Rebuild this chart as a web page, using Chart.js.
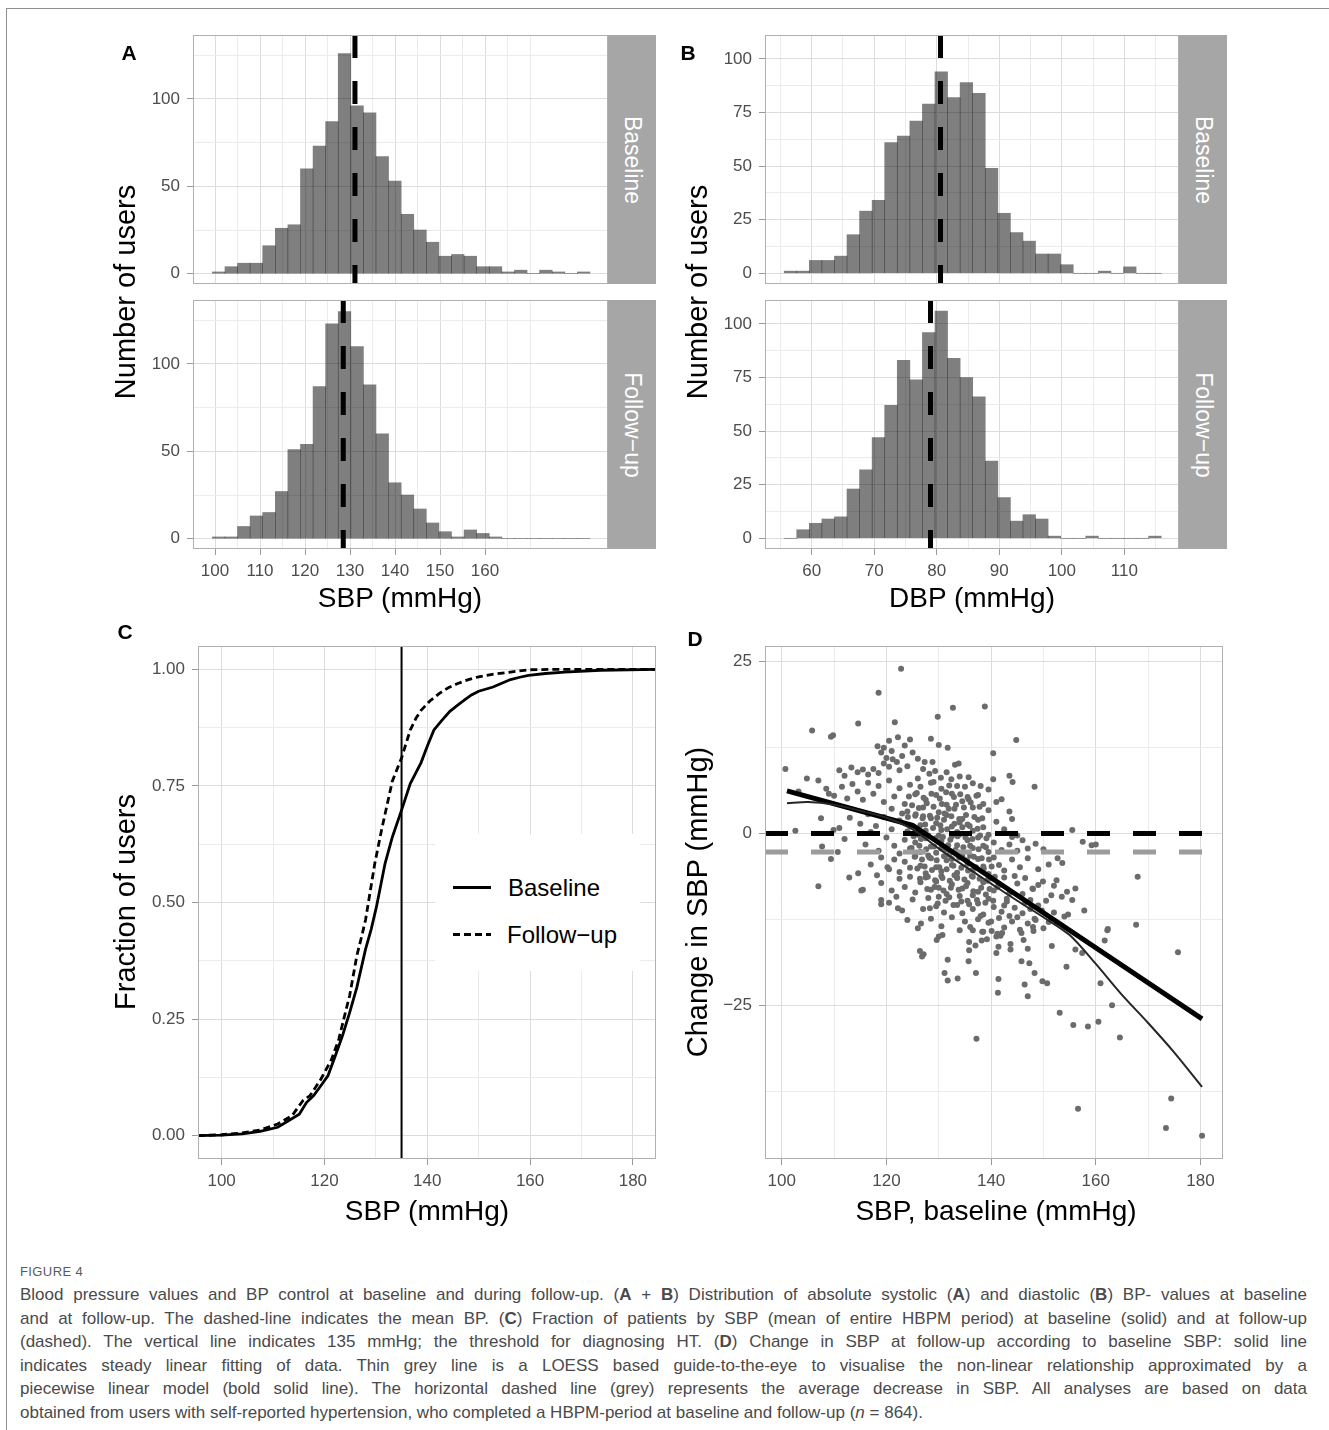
<!DOCTYPE html>
<html>
<head>
<meta charset="utf-8">
<script src="https://cdn.jsdelivr.net/npm/chart.js@4.4.1/dist/chart.umd.min.js"></script>
<style>
  body { margin: 0; background: #fff; width: 1329px; height: 1430px; position: relative; overflow: hidden;
         font-family: "Liberation Sans", Arial, sans-serif; }
  canvas { position: absolute; }
  .abs { position: absolute; }
  .txt { position: absolute; white-space: nowrap; line-height: 1; }
  .strip { position: absolute; background: #a6a6a6; }
  .cap-line { position: absolute; left: 20px; display: inline-block; white-space: nowrap; transform-origin: 0 0;
              font-size: 17px; color: #4a4a4a; }
</style>
</head>
<body>
<div class="abs" style="left:6px;top:8px;width:1323px;border-top:1px solid #8f8f8f"></div>
<div class="abs" style="left:6px;top:8px;height:1422px;border-left:1px solid #8f8f8f"></div>

<script>
// ---- data ----
// A: SBP histogram, 30 bins (centres), counts per facet
const sbpBins = [100.81,103.61,106.40,109.20,112.00,114.80,117.59,120.39,123.19,125.98,128.78,131.58,134.37,137.17,139.97,
                 142.77,145.56,148.36,151.16,153.95,156.75,159.55,162.34,165.14,167.94,170.74,173.53,176.33,179.13,181.92];
const sbpBaseline = [1,4,6,6,16,26,28,60,73,87,126,96,92,67,53,34,25,18,10,11,10,4,4,1,2,0,2,1,0,1];
const sbpFollowup = [1,1,7,13,15,27,51,54,87,123,130,110,88,60,32,25,17,9,4,1,5,3,1,0,0,0,0,0,0,0];
const sbpMeans = [131.1, 128.5];

// B: DBP histogram
const dbpBins = [56.60,58.61,60.62,62.63,64.64,66.65,68.66,70.67,72.68,74.69,76.70,78.71,80.72,82.73,84.74,
                 86.75,88.76,90.77,92.78,94.79,96.80,98.81,100.82,102.83,104.84,106.85,108.86,110.87,112.88,114.89];
const dbpBaseline = [1,1,6,6,8,18,29,34,61,64,71,79,94,82,89,84,49,28,19,15,9,9,4,0,0,1,0,3,0,0];
const dbpFollowup = [0,4,7,9,10,23,32,47,62,83,74,96,106,84,75,66,36,19,8,11,9,1,0,0,1,0,0,0,0,1];
const dbpMeans = [80.6, 79.0];

// C: cumulative fraction of users by SBP
const ecdfBaseline = [[95.4,0],[100,0.001],[104,0.004],[107.5,0.009],[110.9,0.018],[113,0.032],[115.1,0.046],[116.5,0.071],
  [117.9,0.086],[119.3,0.107],[120.7,0.129],[122.1,0.171],[123.5,0.214],[124.9,0.264],[126.3,0.318],[128,0.40],[129.1,0.443],
  [130.1,0.49],[131.8,0.584],[133.2,0.64],[135,0.698],[136.7,0.755],[138.8,0.80],[140,0.835],[141.3,0.87],[142.8,0.89],
  [144.4,0.91],[145.8,0.922],[147.2,0.934],[148.6,0.945],[150,0.953],[152.8,0.962],[154.5,0.97],[156.2,0.978],[158,0.983],
  [159.7,0.987],[163,0.991],[166.7,0.994],[173.7,0.998],[184.5,1.0]];
const ecdfFollowup = [[95.4,0],[100,0.002],[104,0.006],[107.5,0.012],[110.9,0.025],[113.7,0.043],[115.8,0.075],[117.2,0.086],
  [119.3,0.121],[121.4,0.164],[122.8,0.207],[124.2,0.27],[124.9,0.30],[126.3,0.386],[127.3,0.43],[128,0.463],[129.8,0.584],
  [131.1,0.655],[133.2,0.76],[135,0.81],[136.7,0.87],[137.8,0.895],[138.8,0.912],[140.5,0.932],[142.3,0.948],[144,0.96],
  [145.8,0.969],[148,0.978],[150,0.984],[153,0.99],[156.2,0.994],[159.7,0.999],[165,1.0],[184.5,1.0]];
const threshold = 135;

// D: change in SBP vs baseline SBP
const changePoints = [
  [100.7,9.4],[105.8,15.0],[104.8,8.0],[107.0,7.7],[109.8,14.3],[109.4,14.1],[114.6,16.0],[118.5,20.5],[122.8,24.0],[121.6,16.2],
  [129.8,17.0],[132.7,18.3],[138.8,18.5],[144.8,13.6],[140.4,11.7],[148.3,6.8],[128.5,13.8],[130.0,12.9],[131.7,12.5],[124.5,13.7],
  [122.2,14.0],[120.5,13.5],[118.3,12.7],[119.5,12.5],[127.3,10.4],[128.8,10.4],[133.1,10.0],[133.8,10.2],[135.7,8.2],[143.5,8.4],
  [144.1,7.5],[140.4,7.9],[102.6,0.4],[103.2,6.1],[107.5,2.2],[109.0,5.8],[107.0,-7.7],[107.7,-1.9],[109.4,-3.7],[110.7,-2.7],
  [109.9,0.5],[112.9,-6.4],[114.6,-5.8],[115.5,-8.2],[115.2,-8.3],[118.2,-6.1],[119.0,-9.7],[119.0,-10.3],[120.2,-4.9],[155.5,0.5],
  [157.5,-1.2],[159.2,-1.7],[160.0,-1.6],[152.7,-3.6],[153.6,-4.3],[168.0,-6.3],[156.1,-8.0],[155.5,-9.7],[157.8,-11.2],[151.5,-9.0],
  [149.9,-7.0],[147.9,-8.0],[149.7,-11.2],[148.3,-12.4],[167.7,-13.3],[162.2,-14.1],[154.0,-12.1],[154.7,-11.8],[126.6,-13.1],
  [128.3,-10.9],[122.2,-10.9],[121.9,-9.2],[130.0,-15.0],[130.7,-14.8],[129.6,-15.5],[126.4,-17.1],[127.1,-17.6],[126.8,-17.9],
  [131.7,-18.4],[131.1,-20.3],[131.7,-21.4],[133.6,-21.1],[137.1,-20.3],[135.7,-18.6],[135.8,-17.0],[135.8,-15.8],[137.0,-16.3],
  [138.2,-15.6],[139.2,-15.4],[136.5,-14.1],[138.3,-14.3],[140.1,-14.2],[141.0,-15.0],[141.8,-14.9],[141.2,-14.6],[142.1,-14.5],
  [141.4,-16.5],[141.0,-17.4],[143.7,-16.1],[143.7,-16.9],[141.4,-21.2],[141.3,-23.2],[137.2,-29.9],[145.8,-14.5],[146.2,-15.5],
  [147.0,-16.8],[145.8,-18.6],[147.3,-18.9],[148.3,-20.3],[149.8,-21.5],[150.7,-21.8],[146.4,-22.0],[147.0,-23.7],[148.1,-14.2],
  [151.6,-16.4],[154.4,-19.4],[153.1,-26.1],[155.7,-27.9],[158.5,-28.1],[160.5,-27.4],[164.6,-29.7],[163.1,-25.0],[160.9,-21.8],
  [161.7,-15.6],[162.3,-13.9],[156.1,-16.9],[157.4,-17.4],[175.7,-17.3],[156.6,-40.1],[174.4,-38.6],[173.4,-42.9],[180.3,-44.0],
  // upper band
  [111,9.2],[112,8.4],[113.3,9.6],[114.5,8.9],[115.5,9.3],[116.5,8.6],[117.5,9.4],[118.5,8.8],[119.5,10.2],[120.5,9.7],[121.2,10.8],
  [122,10.4],[123,11.3],[124,9.8],[125,11.8],[126,10.9],[127,9.4],[128.2,8.7],[129.3,9.1],[130.4,8.1],[131.5,8.9],[132.4,7.9],
  [134,8.3],[136.5,7.3],[138,6.9],[139.5,6.4],[142,5.0],[143.5,3.2],[144,2.1],[119,11.8],[121,12.0],[123.5,12.8],[120,11],[122.5,9.2],
  // middle band
  [108.5,6.5],[110,5.5],[111.5,6.8],[112.5,5.1],[113.5,7.2],[114.5,6.1],[115.5,4.9],[116.5,7.4],[117.5,5.8],[118.5,6.9],[119.5,4.6],
  [120.5,7.7],[121.5,5.4],[122.5,6.6],[123.5,4.3],[124.5,7.1],[125.5,5.7],[126.5,6.8],[127.5,4.9],[128.5,7.4],[129.5,5.6],[130.5,6.5],
  [131.5,4.2],[132.5,5.8],[133.5,6.9],[134.5,4.7],[135.5,5.3],[136.5,3.8],[137.5,5.6],[138.5,4.3],[139.5,3.4],[141,4.6],[121,3.6],
  [124,3.2],[127,3.8],[130,3.1],[133,3.6],[126,8],[129,7.5],[132,7],[135,6.8],
  [113,2.3],[115,1.4],[116.5,2.8],[118,1.1],[119.5,2.4],[121,0.6],[122.5,1.9],[124,0.3],[125.5,2.6],[126.5,1.2],[127.5,0.4],[128.5,2.2],
  [129.5,1.5],[130.5,0.5],[131.5,2.7],[132.5,1.0],[133.5,0.2],[134.5,2.1],[135.5,1.3],[136.5,0.4],[137.5,2.0],[138.5,0.9],[139.5,-0.2],
  [141,1.7],[142.5,0.6],[145,-0.3],[146,-1.0],[117,0.2],[111,0.8],[123,2.9],[127,2.5],[131,2.0],[134,1.6],
  [112,-0.8],[116,-1.6],[118.5,-2.5],[120,-0.6],[121.5,-1.8],[122.5,-2.9],[123.5,-0.9],[124.5,-2.2],[125.5,-1.3],[126.5,-2.7],
  [127.5,-0.7],[128.5,-1.9],[129.5,-2.8],[130.5,-1.1],[131.5,-2.3],[132.5,-0.4],[133.5,-1.7],[134.5,-2.9],[135.5,-1.0],[136.5,-2.1],
  [137.5,-0.6],[138.5,-1.8],[139.5,-2.7],[140.5,-1.3],[142,-2.4],[143.5,-1.6],[145,-2.5],[147,-2.2],[148.5,-1.5],[150,-2.3],[144,-0.5],
  [126,-0.2],[130,-0.3],[134,-0.1],
  [117,-4.5],[119,-3.5],[120.5,-5.2],[121.5,-3.8],[122.5,-5.6],[123.5,-4.1],[124.5,-5.0],[125.5,-3.3],[126.5,-4.7],[127.5,-5.8],
  [128.5,-3.6],[129.5,-4.9],[130.5,-5.5],[131.5,-3.9],[132.5,-4.6],[133.5,-5.7],[134.5,-3.4],[135.5,-4.4],[136.5,-5.3],[137.5,-3.7],
  [138.5,-4.8],[139.5,-5.9],[140.5,-3.5],[141.5,-4.6],[142.5,-5.4],[144,-3.8],[145.5,-4.9],[147,-3.6],[149,-5.2],[151,-4.5],
  [128,-3.2],[132,-3.1],[136,-3.2],
  [119,-7.2],[121,-8.3],[122.5,-6.6],[123.5,-7.8],[124.5,-6.3],[125.5,-8.6],[126.5,-7.1],[127.5,-6.4],[128.5,-8.2],[129.5,-7.0],
  [130.5,-6.2],[131.5,-8.8],[132.5,-7.4],[133.5,-6.5],[134.5,-8.0],[135.5,-7.2],[136.5,-6.3],[137.5,-8.5],[138.5,-7.1],[139.5,-6.6],
  [140.5,-8.3],[141.5,-7.5],[142.5,-6.4],[143.5,-8.7],[145,-7.3],[146.5,-6.5],[148,-8.1],[152,-7.6],[133,-6.1],[130,-7.9],
  [120.5,-10.1],[123,-11.2],[125,-9.6],[127,-11.0],[128,-9.4],[129.5,-10.6],[131,-11.5],[132,-9.3],[133.5,-10.4],[134.5,-11.6],
  [135.5,-9.8],[136.5,-11.0],[137.5,-10.2],[138.5,-11.8],[139.5,-9.5],[140.5,-10.7],[142,-11.4],[143,-9.9],[144.5,-10.8],[146,-11.6],
  [147.5,-9.7],[149,-10.5],[134,-9.1],[130,-9.2],
  [124,-12.6],[126,-13.8],[128.5,-12.4],[130.5,-13.5],[132.5,-12.2],[134,-14.1],[135,-12.8],[136,-13.6],[137.5,-12.5],[138.5,-14.3],
  [139.5,-13.0],[141.5,-12.3],[142.5,-13.7],[144,-12.8],[145.5,-14.0],[147,-13.1],[148.5,-12.6],[150,-13.8],[152.5,-13.0],
  [143,-9.5],[144.5,-6.2],[146,-8.8],[147.5,-11],[149,-7.5],[150.5,-9.8],[152,-11.5],[153.5,-9.2],[145,-12.2],[148,-13.6],
  [151,-12.9],[143.5,-12],[146.5,-10.1],[152.5,-6.8],[154.5,-8.5],[142.5,-10.5],[140,-12.8],[138,-12],[136.5,-9],[139,-8.9],
  // dense core
  [124.3,5.4],[125.8,5.9],[127.1,5.2],[128.6,5.8],[130.2,5.1],[131.4,6.0],[132.9,5.3],[134.1,5.7],[135.7,5.0],[137.2,5.5],
  [124.9,4.1],[126.2,3.7],[127.7,4.4],[129.0,3.9],[130.6,4.3],[131.9,3.6],[133.3,4.2],[134.8,3.8],[136.1,4.5],[137.8,3.9],
  [124.1,2.4],[125.6,2.8],[126.9,2.2],[128.3,2.6],[129.7,2.3],[131.1,2.9],[132.4,2.5],[133.9,2.1],[135.2,2.7],[136.8,2.4],[138.3,2.2],
  [124.6,1.1],[126.0,0.7],[127.4,1.3],[128.9,0.8],[130.3,1.2],[131.6,0.6],[133.0,1.4],[134.5,0.9],[135.9,1.1],[137.4,0.7],
  [125.2,-0.4],[126.6,-0.8],[128.0,-0.3],[129.4,-0.7],[130.8,-0.5],[132.2,-0.9],[133.6,-0.4],[135.1,-0.6],[136.4,-0.8],[137.9,-0.3],[139.1,-0.7],
  [124.8,-2.1],[126.3,-1.8],[127.6,-2.3],[129.1,-1.9],[130.5,-2.2],[131.8,-1.7],[133.2,-2.4],[134.7,-2.0],[136.0,-1.8],[137.6,-2.3],[139.0,-2.0],
  [125.4,-3.4],[126.8,-3.8],[128.2,-3.5],[129.6,-3.9],[131.0,-3.3],[132.5,-3.7],[133.9,-3.5],[135.4,-3.9],[136.7,-3.4],[138.2,-3.6],[139.6,-3.8],
  [125.9,-5.1],[127.3,-4.8],[128.7,-5.3],[130.1,-4.9],[131.5,-5.2],[132.8,-4.7],[134.3,-5.0],[135.6,-5.4],[137.1,-4.9],[138.6,-5.1],[140.1,-4.8],
  [126.4,-6.6],[127.9,-6.3],[129.3,-6.8],[130.7,-6.5],[132.1,-6.9],[133.5,-6.4],[134.9,-6.7],[136.3,-6.2],[137.8,-6.6],[139.3,-6.9],[140.7,-6.3],
  [127.8,-8.1],[129.2,-7.8],[130.9,-8.3],[132.3,-7.9],[133.8,-8.2],[135.2,-7.7],[136.6,-8.4],[138.1,-7.9],[139.7,-8.1],[141.2,-7.8],
  [129.8,-10.2],[131.3,-9.8],[132.8,-10.4],[134.3,-9.9],[135.8,-10.3],[137.3,-9.7],[138.9,-10.1],[140.4,-9.8]
];
const piecewiseFit = [[101,6.2],[125,1.2],[180.3,-27.0]];
const loessFit = [[101,4.4],[105,4.6],[110,4.2],[115,3.3],[120,2.3],[125,0.6],[130,-2.2],[135,-4.8],[140,-7.3],[145,-9.8],
                  [150,-12.2],[155,-14.8],[160,-19.0],[165,-23.5],[170,-27.6],[175,-31.9],[180.3,-36.9]];
const meanChange = -2.7;

// tick labels
const sbpHistTicks = [100,110,120,130,140,150,160];
const dbpHistTicks = [60,70,80,90,100,110];
const countTicksA = [0,50,100];
const countTicksB = [0,25,50,75,100];
const sbpTicks = [100,120,140,160,180];
const fractionTicks = [0,0.25,0.5,0.75,1];
const changeTicks = [-25,0,25];

// ---- helpers ----
const FONT = '"Liberation Sans", Arial, sans-serif';
const YW = 70, PADT = 20, XH = 50;

function steps(from, to, step) {
  const v = [];
  for (let x = from; x <= to + 1e-9; x += step) v.push(+x.toFixed(4));
  return v;
}

const panelBox = {
  id: 'panelBox',
  afterDraw(chart) {
    const a = chart.chartArea, ctx = chart.ctx;
    ctx.save();
    ctx.strokeStyle = '#b0b0b0';
    ctx.lineWidth = 1;
    ctx.strokeRect(a.left + 0.5, a.top + 0.5, a.right - a.left - 1, a.bottom - a.top - 1);
    ctx.restore();
  }
};

function axis(min, max, grid, labels, fmt, showLabels, isX) {
  return {
    type: 'linear', min: min, max: max, offset: false,
    afterBuildTicks: s => { s.ticks = grid.map(v => ({ value: v, major: labels.includes(v) })); },
    afterFit: s => { if (isX) s.height = showLabels ? XH : 0; else s.width = YW; },
    ticks: {
      display: showLabels, autoSkip: false, maxRotation: 0, minRotation: 0,
      color: '#4d4d4d', font: { family: FONT, size: 17 }, padding: isX ? 6 : 7,
      callback: (v, i, t) => (t[i] && t[i].major) ? fmt(v) : ''
    },
    grid: {
      offset: false, lineWidth: 1,
      color: c => (c.tick && c.tick.major) ? '#dcdcdc' : '#ebebeb',
      drawTicks: showLabels, tickLength: 6, tickWidth: 1,
      tickColor: c => (c.tick && c.tick.major) ? '#9a9a9a' : 'rgba(0,0,0,0)'
    },
    border: { display: false }
  };
}

function makeCanvas(box, bottomAxis) {
  const c = document.createElement('canvas');
  const w = box.R - box.L + YW, h = box.B - box.T + PADT + (bottomAxis ? XH : PADT);
  c.width = w; c.height = h;
  c.style.left = (box.L - YW) + 'px'; c.style.top = (box.T - PADT) + 'px';
  c.style.width = w + 'px'; c.style.height = h + 'px';
  document.body.appendChild(c);
  return c;
}

function baseOptions(bottomAxis, scales) {
  return {
    responsive: false, animation: false, devicePixelRatio: 1, events: [],
    layout: { padding: { top: PADT, bottom: bottomAxis ? 0 : PADT, left: 0, right: 0 } },
    plugins: { legend: { display: false }, tooltip: { enabled: false } },
    scales: scales
  };
}

function histogram(box, bins, counts, mean, xr, xGrid, xLabels, yr, yGrid, yLabels, bottomAxis) {
  new Chart(makeCanvas(box, bottomAxis), {
    type: 'bar',
    data: {
      datasets: [
        { type: 'line', data: [{ x: mean, y: yr[1] }, { x: mean, y: yr[0] }], borderColor: '#000', borderWidth: 5,
          borderDash: [23, 23], pointRadius: 0, clip: 0, order: 0 },
        { type: 'bar', data: bins.map((b, i) => ({ x: b, y: counts[i] })), backgroundColor: 'rgba(0,0,0,0.5)',
          borderWidth: 0, barPercentage: 1, categoryPercentage: 1, grouped: false, order: 1 }
      ]
    },
    options: baseOptions(bottomAxis, {
      x: axis(xr[0], xr[1], xGrid, xLabels, v => String(v), bottomAxis, true),
      y: axis(yr[0], yr[1], yGrid, yLabels, v => String(v), true, false)
    }),
    plugins: [panelBox]
  });
}

function pts(a) { return a.map(p => ({ x: p[0], y: p[1] })); }

function text(str, cx, cy, size, extra) {
  const d = document.createElement('div');
  d.className = 'txt';
  d.innerHTML = str;
  d.style.left = cx + 'px'; d.style.top = cy + 'px'; d.style.fontSize = size + 'px';
  d.style.transform = 'translate(-50%,-50%)' + (extra && extra.rot ? ' rotate(' + extra.rot + 'deg)' : '');
  if (extra && extra.bold) d.style.fontWeight = 'bold';
  d.style.color = (extra && extra.color) || '#000';
  document.body.appendChild(d);
}

function strip(box, label) {
  const s = document.createElement('div');
  s.className = 'strip';
  s.style.left = box.L + 'px'; s.style.top = box.T + 'px';
  s.style.width = (box.R - box.L) + 'px'; s.style.height = (box.B - box.T) + 'px';
  document.body.appendChild(s);
  text(label, (box.L + box.R) / 2, (box.T + box.B) / 2, 23, { rot: 90, color: '#fff' });
}

// ---- panel A ----
const aX = [95.11, 187.33], aY = [-5.9, 136.6];
histogram({ L: 193, R: 608, T: 35, B: 284 }, sbpBins, sbpBaseline, sbpMeans[0], aX, steps(100, 170, 5), sbpHistTicks,
          aY, steps(0, 125, 25), countTicksA, false);
histogram({ L: 193, R: 608, T: 300, B: 549 }, sbpBins, sbpFollowup, sbpMeans[1], aX, steps(100, 170, 5), sbpHistTicks,
          aY, steps(0, 125, 25), countTicksA, true);
strip({ L: 608, R: 656, T: 35, B: 284 }, 'Baseline');
strip({ L: 608, R: 656, T: 300, B: 549 }, 'Follow\u2212up');

// ---- panel B ----
const bX = [52.53, 118.74], bY = [-5.0, 111.2];
histogram({ L: 765, R: 1179, T: 35, B: 284 }, dbpBins, dbpBaseline, dbpMeans[0], bX, steps(55, 115, 5), dbpHistTicks,
          bY, steps(0, 100, 12.5), countTicksB, false);
histogram({ L: 765, R: 1179, T: 300, B: 549 }, dbpBins, dbpFollowup, dbpMeans[1], bX, steps(55, 115, 5), dbpHistTicks,
          bY, steps(0, 100, 12.5), countTicksB, true);
strip({ L: 1179, R: 1227, T: 35, B: 284 }, 'Baseline');
strip({ L: 1179, R: 1227, T: 300, B: 549 }, 'Follow\u2212up');

// ---- panel C ----
const cBox = { L: 198, R: 656, T: 646, B: 1159 };
new Chart(makeCanvas(cBox, true), {
  type: 'scatter',
  data: {
    datasets: [
      { type: 'line', data: [{ x: threshold, y: 1.05 }, { x: threshold, y: -0.05 }], borderColor: '#000', borderWidth: 2,
        pointRadius: 0, clip: 0, order: 0 },
      { type: 'line', data: pts(ecdfBaseline), borderColor: '#000', borderWidth: 2.8, pointRadius: 0, tension: 0, clip: 0, order: 1 },
      { type: 'line', data: pts(ecdfFollowup), borderColor: '#000', borderWidth: 2.8, borderDash: [7, 4], pointRadius: 0,
        tension: 0, clip: 0, order: 2 }
    ]
  },
  options: baseOptions(true, {
    x: axis(95.4, 184.5, steps(100, 180, 10), sbpTicks, v => String(v), true, true),
    y: axis(-0.05, 1.05, steps(0, 1, 0.125), fractionTicks, v => v.toFixed(2), true, false)
  }),
  plugins: [panelBox]
});

// ---- panel D ----
const dBox = { L: 765, R: 1227, T: 646, B: 1159 };
const dX = [96.8, 184.3];
new Chart(makeCanvas(dBox, true), {
  type: 'scatter',
  data: {
    datasets: [
      { type: 'line', data: pts(loessFit), borderColor: '#262626', borderWidth: 2, pointRadius: 0, tension: 0.3, order: 0 },
      { type: 'line', data: pts(piecewiseFit), borderColor: '#000', borderWidth: 5, pointRadius: 0, tension: 0, order: 1 },
      { type: 'line', data: [{ x: dX[0], y: 0 }, { x: dX[1], y: 0 }], borderColor: '#000', borderWidth: 5,
        borderDash: [23, 23], pointRadius: 0, clip: 0, order: 2 },
      { type: 'line', data: [{ x: dX[0], y: meanChange }, { x: dX[1], y: meanChange }], borderColor: '#9c9c9c', borderWidth: 5,
        borderDash: [23, 23], pointRadius: 0, clip: 0, order: 3 },
      { type: 'scatter', data: pts(changePoints), pointRadius: 3, pointBackgroundColor: '#6b6b6b', pointBorderWidth: 0, order: 5 }
    ]
  },
  options: baseOptions(true, {
    x: axis(dX[0], dX[1], steps(100, 180, 10), sbpTicks, v => String(v), true, true),
    y: axis(-47.4, 27.3, steps(-37.5, 25, 12.5), changeTicks, v => (v < 0 ? '\u2212' + Math.abs(v) : String(v)), true, false)
  }),
  plugins: [panelBox]
});

// ---- legend for C ----
document.body.insertAdjacentHTML('beforeend',
  '<div class="abs" style="left:435px;top:834px;width:205px;height:137px;background:#fff"></div>' +
  '<div class="abs" style="left:453px;top:886px;width:38px;height:3px;background:#000"></div>' +
  '<div class="abs" style="left:453px;top:933px;width:38px;height:3px;background:repeating-linear-gradient(90deg,#000 0 7px,transparent 7px 11px)"></div>');
text('Baseline', 554, 888, 24);
text('Follow\u2212up', 562, 935, 24);

// ---- titles and panel letters ----
text('A', 129, 52, 21, { bold: true });
text('B', 688, 52, 21, { bold: true });
text('C', 125, 631, 21, { bold: true });
text('D', 695, 638, 21, { bold: true });
text('Number of users', 125, 292, 29, { rot: -90 });
text('Number of users', 697, 292, 29, { rot: -90 });
text('SBP (mmHg)', 400, 598, 28);
text('DBP (mmHg)', 972, 598, 28);
text('Fraction of users', 125, 902, 29, { rot: -90 });
text('SBP (mmHg)', 427, 1211, 28);
text('Change in SBP (mmHg)', 697, 902, 29, { rot: -90 });
text('SBP, baseline (mmHg)', 996, 1211, 28);

// ---- caption ----
const captionLines = [
  'Blood pressure values and BP control at baseline and during follow-up. (<b>A</b> + <b>B</b>) Distribution of absolute systolic (<b>A</b>) and diastolic (<b>B</b>) BP- values at baseline',
  'and at follow-up. The dashed-line indicates the mean BP. (<b>C</b>) Fraction of patients by SBP (mean of entire HBPM period) at baseline (solid) and at follow-up',
  '(dashed). The vertical line indicates 135 mmHg; the threshold for diagnosing HT. (<b>D</b>) Change in SBP at follow-up according to baseline SBP: solid line',
  'indicates steady linear fitting of data. Thin grey line is a LOESS based guide-to-the-eye to visualise the non-linear relationship approximated by a',
  'piecewise linear model (bold solid line). The horizontal dashed line (grey) represents the average decrease in SBP. All analyses are based on data',
  'obtained from users with self-reported hypertension, who completed a HBPM-period at baseline and follow-up (<i>n</i> = 864).'
];
document.body.insertAdjacentHTML('beforeend',
  '<div class="abs" style="left:20px;top:1265px;font-size:13px;color:#5a5a5a;letter-spacing:0.4px;line-height:14px">FIGURE 4</div>');
const capTarget = 1287;
captionLines.forEach((html, i) => {
  const el = document.createElement('span');
  el.className = 'cap-line';
  el.innerHTML = html;
  el.style.top = (1285 + i * 23.6) + 'px';
  document.body.appendChild(el);
  const w = el.getBoundingClientRect().width;
  let s = 1;
  if (w > capTarget) s = capTarget / w;
  el.style.transform = 'scaleX(' + s + ')';
  if (i < captionLines.length - 1) {
    const spaces = (el.textContent.match(/ /g) || []).length;
    el.style.wordSpacing = ((capTarget / s - w) / spaces) + 'px';
  }
});
</script>
</body>
</html>
